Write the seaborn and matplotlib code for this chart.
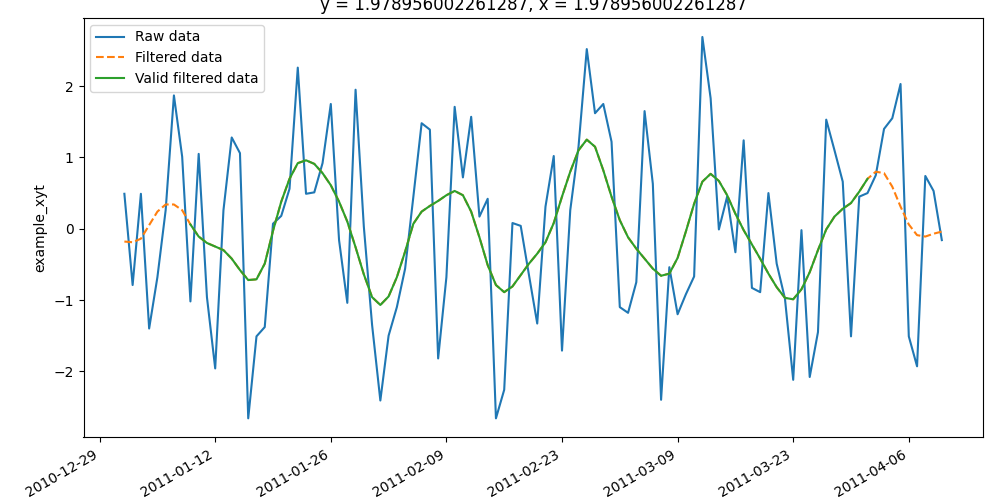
import matplotlib
matplotlib.use("Agg")
import matplotlib.pyplot as plt
import matplotlib.dates as mdates
import seaborn as sns
import pandas as pd
import numpy as np

# ---------------- data ----------------
dates = pd.date_range("2011-01-01", periods=100, freq="D")

raw = [0.49, -0.79, 0.49, -1.40, -0.68, 0.26, 1.87, 1.01, -1.02, 1.05,
       -0.96, -1.96, 0.26, 1.28, 1.06, -2.66, -1.51, -1.38, 0.07, 0.18,
       0.56, 2.26, 0.49, 0.51, 0.92, 1.75, -0.16, -1.04, 1.95, 0.03,
       -1.35, -2.41, -1.50, -1.10, -0.56, 0.45, 1.48, 1.39, -1.82, -0.68,
       1.71, 0.72, 1.57, 0.17, 0.42, -2.66, -2.26, 0.08, 0.04, -0.65,
       -1.33, 0.31, 1.02, -1.71, 0.26, 1.15, 2.52, 1.62, 1.75, 1.22,
       -1.10, -1.18, -0.75, 1.65, 0.63, -2.40, -0.54, -1.20, -0.92, -0.67,
       2.69, 1.83, -0.01, 0.45, -0.33, 1.24, -0.83, -0.89, 0.50, -0.49,
       -0.98, -2.12, -0.02, -2.08, -1.45, 1.53, 1.10, 0.66, -1.51, 0.45,
       0.50, 0.75, 1.40, 1.55, 2.03, -1.51, -1.93, 0.74, 0.53, -0.16]

filtered = [-0.18, -0.19, -0.14, 0.05, 0.24, 0.34, 0.34, 0.26, 0.06, -0.11,
            -0.20, -0.25, -0.30, -0.42, -0.58, -0.72, -0.71, -0.49, -0.03, 0.38,
            0.70, 0.92, 0.96, 0.91, 0.78, 0.61, 0.38, 0.10, -0.26, -0.64,
            -0.96, -1.07, -0.95, -0.68, -0.32, 0.07, 0.24, 0.32, 0.39, 0.47,
            0.53, 0.47, 0.24, -0.12, -0.51, -0.79, -0.89, -0.81, -0.65, -0.49,
            -0.35, -0.19, 0.08, 0.45, 0.80, 1.10, 1.25, 1.15, 0.82, 0.45,
            0.12, -0.12, -0.28, -0.42, -0.56, -0.66, -0.63, -0.41, -0.04, 0.35,
            0.66, 0.77, 0.67, 0.47, 0.21, -0.02, -0.22, -0.42, -0.63, -0.82,
            -0.97, -0.99, -0.85, -0.61, -0.30, -0.01, 0.17, 0.28, 0.36, 0.52,
            0.70, 0.80, 0.78, 0.59, 0.31, 0.06, -0.09, -0.11, -0.07, -0.04]

valid_first, valid_last = 8, 90  # valid part of the filtered series

tick_dates = pd.date_range("2010-12-29", periods=8, freq="14D")

title = "y = 1.978956002261287, x = 1.978956002261287"
ylabel = "example_xyt"

# ---------------- plot ----------------
df = pd.DataFrame({"time": dates, "raw": raw, "filtered": filtered})
valid = df.iloc[valid_first:valid_last + 1]

fig = plt.figure(figsize=(10, 5), dpi=100)
ax = fig.add_axes([0.0835, 0.1252, 0.8992, 0.839])

sns.lineplot(data=df, x="time", y="raw", ax=ax, color="C0", label="Raw data", linewidth=1.5)
sns.lineplot(data=df, x="time", y="filtered", ax=ax, color="C1", linestyle="--",
             label="Filtered data", linewidth=1.5)
sns.lineplot(data=valid, x="time", y="filtered", ax=ax, color="C2",
             label="Valid filtered data", linewidth=1.5)

ax.set_xticks(tick_dates)
ax.xaxis.set_major_formatter(mdates.DateFormatter("%Y-%m-%d"))
for lbl in ax.get_xticklabels():
    lbl.set_rotation(30)
    lbl.set_ha("right")

ax.set_xlabel("")
ax.set_ylabel(ylabel)
ax.set_title(title)
ax.legend(loc="upper left")

fig.savefig("out.png", dpi=100)
